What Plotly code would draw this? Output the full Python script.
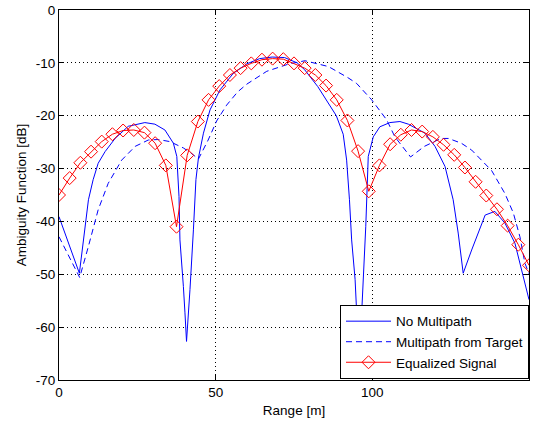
import numpy as np
import plotly.graph_objects as go

# No Multipath (solid blue)
nm_x = [0, 3.0, 6.5, 9.4, 10.9, 12.5, 14.7, 17.9, 22.1, 27.4, 30.6, 33.8, 36.5, 37.6, 38.3,
        38.6, 39.2, 39.7, 40.2, 40.7, 41.8, 42.3, 42.9, 43.7, 44.5, 46.1, 48.2, 51.4, 55.6,
        59.9, 64.0, 68.0, 72.0, 76.0, 78.4, 82.6, 86.0, 88.5, 90.7, 91.8, 92.7, 93.4, 94.5,
        95.0, 95.7, 96.5, 97.2, 97.9, 98.7, 100.3, 102.4, 105.6, 108.8, 111.5, 116.8, 120.0,
        123.2, 125.8, 127.4, 129.0, 131.7, 133.8, 136.0, 139.1, 142.3, 145.5, 148.2, 150.0]
nm_y = [-39.1, -44.1, -49.8, -35.9, -32.1, -29.0, -26.8, -24.3, -22.0, -21.3, -21.6, -22.7, -25.2, -27.7, -35.3,
        -43.5, -47.9, -52.3, -57.3, -62.7, -52.9, -48.5, -41.6, -32.1, -28.0, -23.3, -18.9, -15.1, -12.0,
        -10.2, -9.2, -8.9, -9.0, -10.0, -11.3, -14.5, -17.8, -20.0, -23.5, -28.4, -35.9, -43.5, -51.0,
        -58.6, -66.0, -58.6, -49.8, -41.0, -27.7, -24.0, -22.1, -21.3, -21.1, -21.6, -23.3, -25.8,
        -29.6, -35.9, -42.2, -49.8, -45.4, -42.2, -38.8, -38.1, -40.3, -44.1, -50.4, -54.8]

# Multipath from Target (dashed blue)
mp_x = [0, 4.1, 6.6, 9.4, 12.5, 15.7, 20.0, 24.3, 28.5, 31.7, 35.4, 39.7, 42.0, 44.5, 47.6,
        50.3, 53.5, 57.0, 60.0, 66.3, 73.4, 78.5, 86.0, 92.2, 95.0, 99.8, 104.6, 107.2, 112.2,
        116.6, 121.9, 124.3, 128.4, 131.7, 134.7, 138.1, 142.3, 145.0, 147.1, 148.7, 150.0]
mp_y = [-42.9, -47.6, -50.6, -44.7, -37.8, -32.8, -28.4, -25.8, -24.6, -24.5, -24.9, -26.1, -27.0, -28.2, -24.6,
        -21.0, -18.0, -15.5, -14.0, -11.6, -10.2, -9.6, -10.7, -12.8, -13.9, -17.0, -20.8, -24.0, -27.8,
        -25.8, -24.3, -24.3, -25.2, -26.5, -28.4, -30.4, -34.7, -38.4, -42.9, -47.9, -49.9]

# Equalized Signal (red, diamonds), 45 samples over 0..150 m
eq_x = np.linspace(0, 150, 45)
eq_y = [-35.0, -31.8, -28.9, -26.8, -24.9, -23.5, -22.8, -22.7, -23.2, -25.2, -29.4, -41.0, -27.5, -21.1, -17.0,
        -14.4, -12.3, -11.0, -10.1, -9.4, -9.2, -9.3, -10.1, -11.0, -12.3, -14.3, -17.0, -20.9, -26.7, -34.3,
        -29.4, -25.4, -23.6, -22.7, -23.0, -24.0, -25.5, -27.4, -29.8, -32.5, -35.1, -37.7, -40.8, -44.4, -48.3]

x_ticks = [0, 50, 100, 150]
y_ticks = [0, -10, -20, -30, -40, -50, -60, -70]

FONT = "Liberation Sans"

fig = go.Figure()
fig.add_trace(go.Scatter(x=nm_x, y=nm_y, mode="lines", name="No Multipath",
                         line=dict(color="#0000ff", width=1)))
fig.add_trace(go.Scatter(x=mp_x, y=mp_y, mode="lines", name="Multipath from Target",
                         line=dict(color="#0000ff", width=1, dash="6px,4px")))
fig.add_trace(go.Scatter(x=eq_x, y=eq_y, mode="lines+markers", name="Equalized Signal",
                         line=dict(color="#ff0000", width=1),
                         marker=dict(symbol="diamond-open", size=10, color="#ff0000",
                                     line=dict(color="#ff0000", width=1))))

axis_common = dict(showline=True, linecolor="black", linewidth=1, mirror="ticks",
                   ticks="inside", ticklen=5, tickcolor="black", automargin=False,
                   showgrid=True, gridcolor="black", gridwidth=1, griddash="1px,3px",
                   zeroline=False, tickfont=dict(family=FONT, size=13.5, color="black"))

fig.update_xaxes(range=[0, 150], tickvals=x_ticks, ticktext=[str(v) for v in x_ticks],
                 title=dict(text="Range [m]", font=dict(family=FONT, size=13.5, color="black"),
                            standoff=6),
                 **axis_common)
fig.update_yaxes(range=[-70, 0], tickvals=y_ticks, ticktext=[str(v) for v in y_ticks],
                 title=dict(text="Ambiguity Function [dB]", font=dict(family=FONT, size=13.5, color="black"),
                            standoff=6),
                 **axis_common)

fig.update_layout(
    width=538, height=425,
    margin=dict(l=59, r=9, t=10, b=45),
    paper_bgcolor="white", plot_bgcolor="white",
    font=dict(family=FONT, size=13.5, color="black"),
    legend=dict(x=1.0, y=0.003, xanchor="right", yanchor="bottom",
                bgcolor="white", bordercolor="black", borderwidth=1,
                font=dict(family=FONT, size=13.5, color="black"),
                tracegroupgap=0, itemwidth=45),
    showlegend=True,
)

fig.write_html("out.html")
